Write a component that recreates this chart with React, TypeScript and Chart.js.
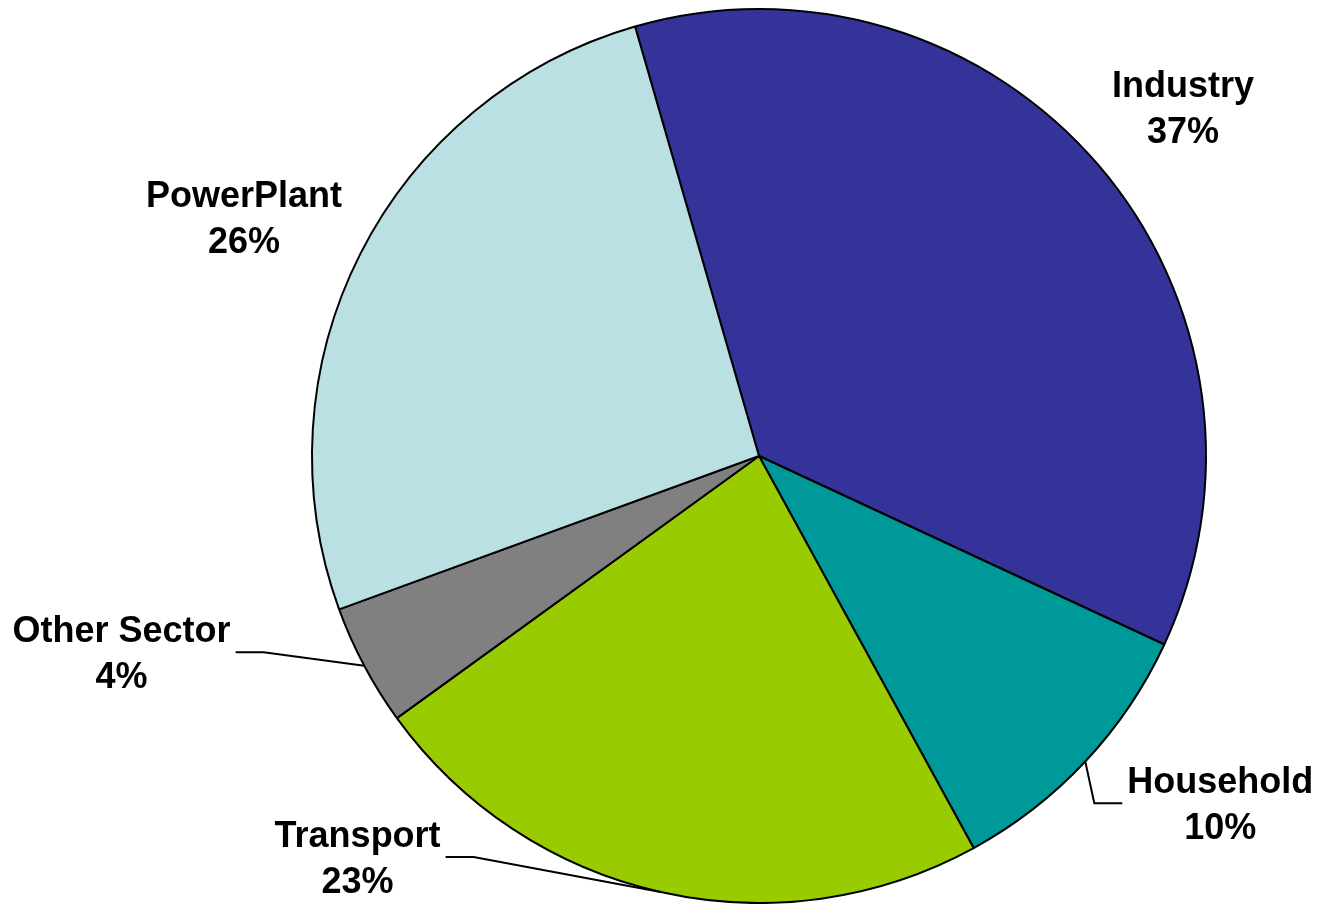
import React, { useEffect, useRef } from "react";
import { Chart, registerables } from "chart.js";

Chart.register(...registerables);

const categories = ["Industry", "Household", "Transport", "Other Sector", "PowerPlant"];
const shares = [36.4, 10.1, 23.0, 4.4, 26.1];
const shareLabels = ["37%", "10%", "23%", "4%", "26%"];
const colors = ["#333399", "#009999", "#99CC00", "#808080", "#BBE0E3"];

// label anchors in units of the pie radius, relative to pie centre (style/layout config)
const labelAnchors = [
  { x: 0.9485, y: -0.7523, leader: 0 },
  { x: 1.032, y: 0.806, leader: -1 },
  { x: -0.898, y: 0.926, leader: 1 },
  { x: -1.426, y: 0.468, leader: 1 },
  { x: -1.152, y: -0.506, leader: 0 },
];

const FONT = "bold 36px 'Liberation Sans', Arial, sans-serif";

const labelPlugin = {
  id: "sliceLabels",
  afterDatasetsDraw(chart: any) {
    const ctx = chart.ctx;
    const meta = chart.getDatasetMeta(0);
    ctx.save();
    ctx.font = FONT;
    ctx.fillStyle = "#000";
    ctx.textAlign = "center";
    ctx.textBaseline = "alphabetic";
    meta.data.forEach((arc: any, i: number) => {
      const { x: cx, y: cy, outerRadius: r, startAngle, endAngle } = arc.getProps(
        ["x", "y", "outerRadius", "startAngle", "endAngle"],
        true
      );
      const a = labelAnchors[i];
      const lx = cx + a.x * r;
      const ly = cy + a.y * r;
      const l1 = categories[i];
      const l2 = shareLabels[i];
      ctx.fillText(l1, lx, ly - 23);
      ctx.fillText(l2, lx, ly + 23);
      if (a.leader !== 0) {
        const w = Math.max(ctx.measureText(l1).width, ctx.measureText(l2).width);
        const dir = a.leader;
        const sx = lx + dir * (w / 2 + 5);
        const ex = sx + dir * 28;
        const yy = ly - 13;
        const mid = (startAngle + endAngle) / 2;
        const px = cx + Math.cos(mid) * r;
        const py = cy + Math.sin(mid) * r;
        ctx.beginPath();
        ctx.lineWidth = 2;
        ctx.strokeStyle = "#000";
        ctx.moveTo(sx, yy);
        ctx.lineTo(ex, yy);
        ctx.lineTo(px, py);
        ctx.stroke();
      }
    });
    ctx.restore();
  },
};

export default function App() {
  const ref = useRef<HTMLCanvasElement | null>(null);
  useEffect(() => {
    if (!ref.current) return;
    const chart = new Chart(ref.current, {
      type: "pie",
      data: {
        labels: categories,
        datasets: [
          {
            data: shares,
            backgroundColor: colors,
            borderColor: "#000000",
            borderWidth: 2,
          },
        ],
      },
      options: {
        responsive: true,
        maintainAspectRatio: false,
        animation: false,
        rotation: -16.1,
        radius: 447,
        layout: { padding: { left: 311, right: 113, top: 8, bottom: 0 } },
        plugins: {
          legend: { display: false },
          tooltip: { enabled: false },
        },
      } as any,
      plugins: [labelPlugin],
    });
    return () => chart.destroy();
  }, []);
  return (
    <div style={{ position: "fixed", left: 0, top: 0, width: 1320, height: 904, background: "#fff" }}>
      <canvas ref={ref} />
    </div>
  );
}
